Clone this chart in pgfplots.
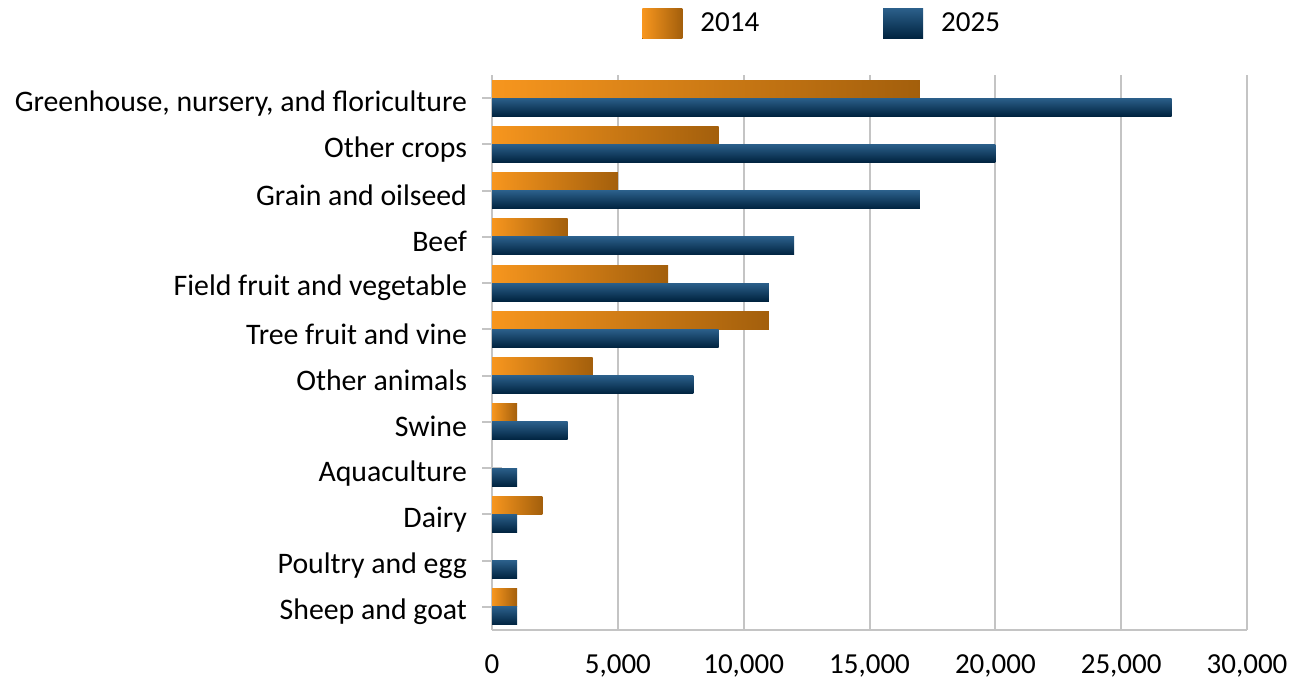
\documentclass[border=0pt]{standalone}
\usepackage{pgfplots}
\usepackage{pgfplotstable}
\pgfplotsset{compat=1.18}
\usepackage{fontspec}
\setmainfont{Carlito}
\definecolor{orgL}{HTML}{F7961E}
\definecolor{orgD}{HTML}{A35F0C}
\definecolor{bluT}{HTML}{2B5F8A}
\definecolor{bluB}{HTML}{00233F}
\definecolor{gridg}{HTML}{C4C4C4}

% pos = 0 bottom (Sheep and goat) ... 11 top (Greenhouse)
% 2014: Aquaculture (3) and Poultry and egg (1) are 0, left out
\pgfplotstableread{
pos  val
0    1000
2    2000
4    1000
5    4000
6    11000
7    7000
8    3000
9    5000
10   9000
11   17000
}\dataA

\pgfplotstableread{
pos  val
0    1000
1    1000
2    1000
3    1000
4    3000
5    8000
6    9000
7    11000
8    12000
9    17000
10   20000
11   27000
}\dataB

\begin{document}
\begin{tikzpicture}
\begin{axis}[
    scale only axis,
    width=377.5pt,
    height=277.5pt,
    font=\fontsize{14.5pt}{17pt}\selectfont,
    xmin=0, xmax=30000,
    ymin=-0.5, ymax=11.5,
    xtick={0,5000,...,30000},
    ytick={0,...,11},
    yticklabels={Sheep and goat, Poultry and egg, Dairy, Aquaculture, Swine, Other animals,
        Tree fruit and vine, Field fruit and vegetable, Beef, Grain and oilseed, Other crops,
        {Greenhouse, nursery, and floriculture}},
    scaled x ticks=false,
    /pgf/number format/.cd, 1000 sep={,}, assume math mode=true, /pgfplots/.cd,
    xmajorgrids,
    grid style={gridg, line width=1pt},
    axis x line*=bottom,
    axis y line*=left,
    axis line style={gridg, line width=1pt, -},
    x tick style={draw=none},
    y tick style={gridg, line width=1pt},
    tick align=center,
    major tick length=10pt,
    yticklabel style={xshift=-4pt, yshift=-2.5pt, font=\fontsize{14.9pt}{17pt}\selectfont},
    xticklabel style={yshift=-4pt},
    clip=false,
    legend columns=2,
    legend style={draw=none, fill=none, at={(axis description cs:0,1)}, anchor=south west,
        xshift=75pt, yshift=18pt, inner sep=0pt,
        /tikz/every even column/.append style={column sep=60pt}},
    legend image code/.code={\fill[#1] (0pt,-7.5pt) rectangle (20pt,7.5pt); \path (27pt,0pt);},
]
% one plot per bar, so that each bar gets its own gradient
\pgfplotsinvokeforeach{0,2,4,5,6,7,8,9,10,11}{
  \addplot[xbar, bar width=9pt, bar shift=4.5pt, draw=none, left color=orgL, right color=orgD,
      forget plot, restrict y to domain={#1:#1.5}]
      table[x=val, y=pos] {\dataA};
}
\pgfplotsinvokeforeach{0,...,11}{
  \addplot[xbar, bar width=9pt, bar shift=-4.5pt, draw=none, top color=bluT, bottom color=bluB,
      forget plot, restrict y to domain={#1:#1.5}]
      table[x=val, y=pos] {\dataB};
}
\addlegendimage{left color=orgL, right color=orgD, draw=none}
\addlegendentry{2014}
\addlegendimage{top color=bluT, bottom color=bluB, draw=none}
\addlegendentry{2025}
\path (axis description cs:-0.6517,-0.0757) (axis description cs:1.0662,1.1351);
\end{axis}
\end{tikzpicture}
\end{document}
